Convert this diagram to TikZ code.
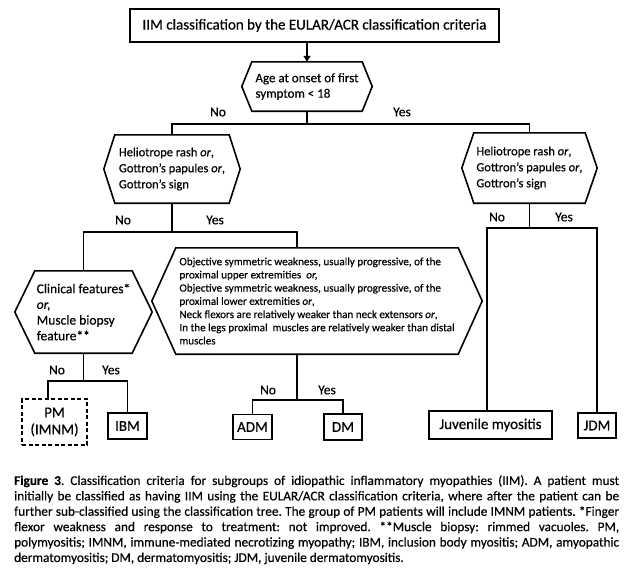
\documentclass[tikz,border=0pt]{standalone}
\usepackage{fontspec}
\setmainfont{Carlito}[FakeBold=0.4]
\usetikzlibrary{arrows.meta}
\newcommand\hexpath[2]{\draw[ln] (#1.west) -- ([xshift=#2]#1.north west) -- ([xshift=-#2]#1.north east) -- (#1.east) -- ([xshift=-#2]#1.south east) -- ([xshift=#2]#1.south west) -- cycle;}
\begin{document}
\begin{tikzpicture}[x=1pt,y=-1pt,
  ln/.style={line width=1.6pt},
  box/.style={draw, line width=1.6pt, inner sep=0pt, align=center, font=\fontsize{15}{16}\selectfont},
  hexnode/.style={inner sep=0pt, align=left, font=\fontsize{12.5}{16}\selectfont},
  lbl/.style={inner sep=0pt, font=\fontsize{13.5}{14}\selectfont}]
\useasboundingbox (0,0) rectangle (639,574);
\fill[white] (0,0) rectangle (639,574);

\node[box, minimum width=369pt, minimum height=33pt] (top) at (314.5,25.5) {IIM classification by the EULAR/ACR classification criteria};

\node[hexnode, minimum width=130pt, minimum height=49pt, font=\fontsize{13}{15.5}\selectfont] (h1) at (307,86.5) {Age at onset of first\\symptom < 18};
\hexpath{h1}{10}

\node[hexnode, minimum width=136pt, minimum height=68pt] (h2) at (172,169) {Heliotrope rash \textit{or},\\Gottron’s papules \textit{or},\\Gottron’s sign};
\hexpath{h2}{11}

\node[hexnode, minimum width=135pt, minimum height=70pt] (h3) at (529.5,168) {Heliotrope rash \textit{or},\\Gottron’s papules \textit{or},\\Gottron’s sign};
\hexpath{h3}{12}

\node[hexnode, minimum width=137pt, minimum height=82pt, font=\fontsize{13.5}{15.7}\selectfont] (cf) at (83.5,312) {Clinical features*\\\textit{or,}\\Muscle biopsy\\feature**};
\hexpath{cf}{20}

\node[hexnode, minimum width=330pt, minimum height=106pt, font=\fontsize{11.1}{13.2}\selectfont] (obj) at (317,301) {Objective symmetric weakness, usually progressive, of the\\proximal upper extremities \ \textit{or,}\\Objective symmetric weakness, usually progressive, of the\\proximal lower extremities \textit{or},\\Neck flexors are relatively weaker than neck extensors \textit{or},\\In the legs proximal \ muscles are relatively weaker than distal\\muscles};
\hexpath{obj}{24}

\node[box, dashed, dash pattern=on 4pt off 2.5pt, minimum width=65pt, minimum height=46pt, font=\fontsize{15}{17}\selectfont] (pm) at (54.5,422) {PM\\(IMNM)};
\node[box, minimum width=39pt, minimum height=26pt] (ibm) at (127.5,426) {IBM};
\node[box, minimum width=39pt, minimum height=25pt] (adm) at (252.5,427) {ADM};
\node[box, minimum width=38pt, minimum height=26pt] (dm) at (343,427) {DM};
\node[box, minimum width=123pt, minimum height=28pt] (juv) at (490.5,425) {Juvenile myositis};
\node[box, minimum width=38pt, minimum height=25pt] (jdm) at (597,425.5) {JDM};

% connectors
\draw[ln, -{Triangle[width=7pt,length=6pt]}] (top.south -| h1.north) -- (h1.north);
\coordinate (j1) at (307,124);
\draw[ln] (h1.south) -- (j1);
\draw[ln] (h2.north) |- (j1) -| (h3.north);

\coordinate (j2) at (172,232);
\coordinate (j2r) at (297,232);
\draw[ln] (h2.south) -- (j2);
\draw[ln] (cf.north) |- (j2r) -- (j2r |- obj.north);

\coordinate (j3) at (529.5,228);
\coordinate (j3l) at (487,228);
\coordinate (j3r) at (597,228);
\draw[ln] (h3.south) -- (j3);
\draw[ln] (j3l |- juv.north) -- (j3l) -- (j3r) -- (jdm.north);

\coordinate (j4) at (83.5,381);
\coordinate (j4l) at (48,381);
\draw[ln] (cf.south) -- (j4);
\draw[ln] (j4l |- pm.north) -- (j4l) -| (ibm.north);

\coordinate (j5) at (297,400);
\draw[ln] (j5 |- obj.south) -- (j5);
\draw[ln] (adm.north) |- (j5) -| (dm.north);

% labels
\node[lbl] (l1n) at (218,112) {No};
\node[lbl] (l1y) at (402,112) {Yes};
\node[lbl] (l2n) at (123,220) {No};
\node[lbl] (l2y) at (215,220) {Yes};
\node[lbl] (l3n) at (497,217) {No};
\node[lbl] (l3y) at (564,217) {Yes};
\node[lbl] (l4n) at (57,370) {No};
\node[lbl] (l4y) at (111,370) {Yes};
\node[lbl] (l5n) at (268,390) {No};
\node[lbl] (l5y) at (327,390) {Yes};

% caption
\node[anchor=north west, inner sep=0pt, text width=605pt, align=justify, font=\fontsize{13.3}{15.4}\selectfont] (cap) at (14,475) {\frenchspacing\hyphenpenalty=10000\textbf{Figure 3}. Classification criteria for subgroups of idiopathic inflammatory myopathies (IIM). A patient must\linebreak initially be classified as having IIM using the EULAR/ACR classification criteria, where after the patient can be\linebreak further sub-classified using the classification tree. The group of PM patients will include IMNM patients. *Finger\linebreak flexor weakness and response to treatment: not improved. **Muscle biopsy: rimmed vacuoles. PM,\linebreak polymyositis; IMNM, immune-mediated necrotizing myopathy; IBM, inclusion body myositis; ADM, amyopathic\linebreak dermatomyositis; DM, dermatomyositis; JDM, juvenile dermatomyositis.};
\end{tikzpicture}
\end{document}
